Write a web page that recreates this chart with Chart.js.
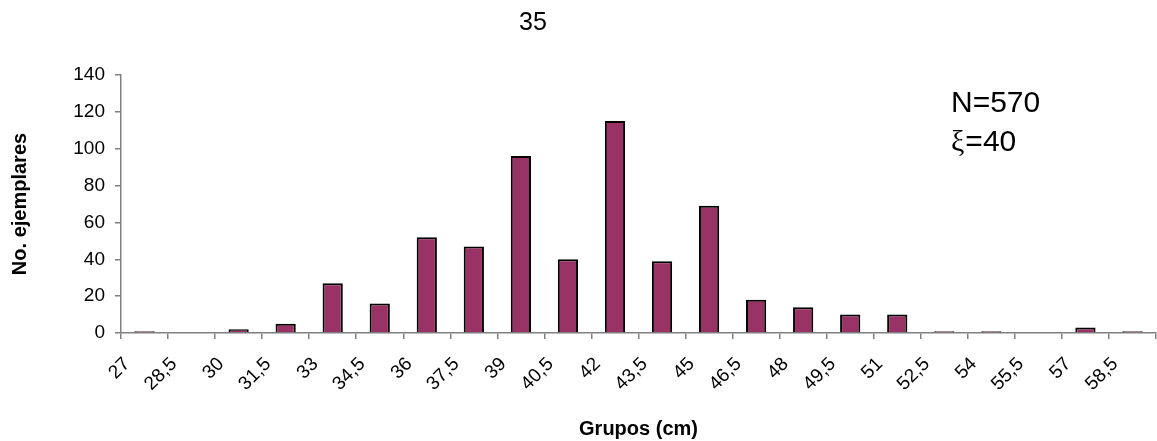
<!DOCTYPE html>
<html>
<head>
<meta charset="utf-8">
<script src="https://cdn.jsdelivr.net/npm/chart.js@4/dist/chart.umd.min.js"></script>
<style>
  html, body { margin: 0; padding: 0; background: #fff; }
  #wrap { width: 1157px; height: 441px; position: relative; }
</style>
</head>
<body>
<div id="wrap"><canvas id="myChart"></canvas></div>
<script>
// lower edge of each size group (cm) and its tick label
const groups = [27, 28.5, 30, 31.5, 33, 34.5, 36, 37.5, 39, 40.5, 42, 43.5, 45, 46.5, 48, 49.5, 51, 52.5, 54, 55.5, 57, 58.5];
const groupLabels = ["27", "28,5", "30", "31,5", "33", "34,5", "36", "37,5", "39", "40,5", "42", "43,5", "45", "46,5", "48", "49,5", "51", "52,5", "54", "55,5", "57", "58,5"];
// number of specimens per group
const counts = [1, 0, 2, 5, 27, 16, 52, 47, 96, 40, 115, 39, 69, 18, 14, 10, 10, 1, 1, 0, 3, 1];
const yTicks = [0, 20, 40, 60, 80, 100, 120, 140];

const binWidth = groups[1] - groups[0];
const barData = groups.map((g, i) => ({ x: g + binWidth / 2, y: counts[i] }));

Chart.defaults.font.family = "'Liberation Sans', Arial, sans-serif";
Chart.defaults.color = "#000";

// chart heading and the N / mean note
const notes = {
  id: "notes",
  afterDraw(chart) {
    const c = chart.ctx;
    c.save();
    c.fillStyle = "#000";
    c.textBaseline = "alphabetic";
    c.textAlign = "center";
    c.font = "25px 'Liberation Sans', Arial, sans-serif";
    c.fillText("35", 533, 30);
    c.textAlign = "left";
    c.font = "30px 'Liberation Sans', Arial, sans-serif";
    c.fillText("N=570", 951, 112);
    c.font = "30px 'Liberation Serif', serif";
    c.fillText("ξ", 951, 151);
    const w = c.measureText("ξ").width;
    c.font = "30px 'Liberation Sans', Arial, sans-serif";
    c.fillText("=40", 951 + w + 1, 151);
    c.restore();
  },
};

var ctx = document.getElementById("myChart").getContext("2d");
var myChart = new Chart(ctx, {
  type: "bar",
  data: {
    datasets: [
      {
        label: "No. ejemplares",
        data: barData,
        backgroundColor: "#993366",
        borderColor: "#000",
        borderWidth: 2,
        barPercentage: 0.43,
        categoryPercentage: 1,
      },
    ],
  },
  options: {
    responsive: true,
    maintainAspectRatio: false,
    animation: false,
    layout: { padding: { top: 75, right: 1, bottom: 0, left: 0 } },
    plugins: {
      legend: { display: false },
      tooltip: { enabled: false },
    },
    scales: {
      x: {
        type: "linear",
        offset: false,
        min: groups[0],
        max: groups[groups.length - 1] + binWidth,
        afterBuildTicks: (scale) => {
          scale.ticks = groups.concat([groups[groups.length - 1] + binWidth]).map((v) => ({ value: v }));
        },
        afterFit: (scale) => {
          scale.height = 108;
          scale.paddingRight = 0;
          scale.paddingLeft = 0;
        },
        grid: {
          offset: false,
          drawOnChartArea: false,
          drawTicks: true,
          tickLength: 6,
          color: "#808080",
          lineWidth: 1.5,
        },
        border: { display: true, color: "#808080", width: 1.5 },
        ticks: {
          autoSkip: false,
          maxRotation: 45,
          minRotation: 45,
          padding: 14,
          labelOffset: 6,
          font: { size: 19 },
          callback: (v, i) => groupLabels[i] || "",
        },
        title: {
          display: true,
          text: "Grupos (cm)",
          font: { size: 20, weight: "bold" },
          padding: { top: 2, bottom: 0 },
        },
      },
      y: {
        min: yTicks[0],
        max: yTicks[yTicks.length - 1],
        afterBuildTicks: (scale) => {
          scale.ticks = yTicks.map((v) => ({ value: v }));
        },
        afterFit: (scale) => {
          scale.width = 121;
        },
        grid: {
          drawOnChartArea: false,
          drawTicks: true,
          tickLength: 6,
          color: "#808080",
          lineWidth: 1.5,
        },
        border: { display: true, color: "#808080", width: 1.5 },
        ticks: {
          padding: 10,
          font: { size: 19 },
        },
        title: {
          display: true,
          text: "No. ejemplares",
          font: { size: 20, weight: "bold" },
          padding: { top: 8, bottom: 0 },
        },
      },
    },
  },
  plugins: [notes],
});
</script>
</body>
</html>
